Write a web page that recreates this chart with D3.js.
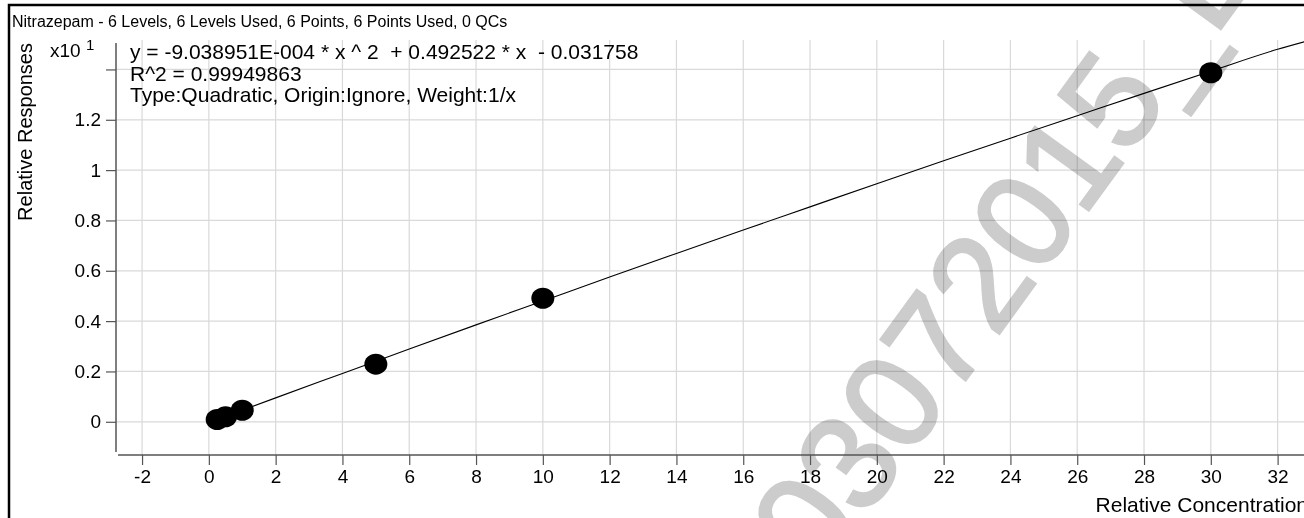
<!DOCTYPE html>
<html>
<head>
<meta charset="utf-8">
<script src="https://cdn.jsdelivr.net/npm/d3@7"></script>
<style>
  html, body { margin: 0; padding: 0; background: #fff; }
  svg { display: block; font-family: "Liberation Sans", Arial, sans-serif; }
</style>
</head>
<body>
<div id="chart"></div>
<script>
// calibration points (x in units, y in x10 units)
var levelX = [0.25, 0.5, 1, 5, 10, 30];
var levelY = [0.009, 0.020, 0.046, 0.229, 0.491, 1.387];

// fitted curve
var curveX = [0.25, 2, 4, 6, 8, 10, 12, 14, 16, 18, 20, 22, 24, 26, 28, 30, 32, 32.8];
var curveY = [0.009, 0.095, 0.192, 0.289, 0.385, 0.480, 0.575, 0.669, 0.762, 0.854, 0.946, 1.037, 1.127, 1.216, 1.305, 1.393, 1.480, 1.510];

var xTicks = [-2, 0, 2, 4, 6, 8, 10, 12, 14, 16, 18, 20, 22, 24, 26, 28, 30, 32];
var yTicks = [0, 0.2, 0.4, 0.6, 0.8, 1, 1.2, 1.4];
var yTickLabels = ["0", "0.2", "0.4", "0.6", "0.8", "1", "1.2", ""];

var titleText = "Nitrazepam - 6 Levels, 6 Levels Used, 6 Points, 6 Points Used, 0 QCs";
var infoLines = [
  "y = -9.038951E-004 * x ^ 2  + 0.492522 * x  - 0.031758",
  "R^2 = 0.99949863",
  "Type:Quadratic, Origin:Ignore, Weight:1/x"
];
var watermark = "03072015_L";

var W = 1304, H = 518;
// plot box (avoid the name "top", it is window.top)
var pLeft = 116, pTop = 40, pRight = 1304, pBottom = 455;

var svg = d3.select("#chart").append("svg")
    .attr("width", W)
    .attr("height", H);

var x = d3.scaleLinear().domain([-2.78, 32.79]).range([pLeft, pRight]);
var y = d3.scaleLinear().domain([-0.132, 1.517]).range([pBottom, pTop]);

// grid
svg.append("g").selectAll("line")
    .data(xTicks).enter().append("line")
    .attr("x1", function(d) { return x(d); })
    .attr("x2", function(d) { return x(d); })
    .attr("y1", pTop).attr("y2", pBottom)
    .style("stroke", "#d9d9d9").style("stroke-width", 1.2);
svg.append("g").selectAll("line")
    .data(yTicks).enter().append("line")
    .attr("x1", pLeft).attr("x2", pRight)
    .attr("y1", function(d) { return y(d); })
    .attr("y2", function(d) { return y(d); })
    .style("stroke", "#d9d9d9").style("stroke-width", 1.2);

// watermark, under the marks
svg.append("text")
    .attr("transform", "translate(820,580) rotate(-54)")
    .style("font-size", "134px")
    .style("fill", "#cccccc")
    .style("stroke", "#cccccc")
    .style("stroke-width", 3)
    .style("mix-blend-mode", "multiply")
    .text(watermark);

// axes
var xAxis = svg.append("g")
    .attr("transform", "translate(0," + pBottom + ")")
    .call(d3.axisBottom(x).tickValues(xTicks).tickSize(10).tickPadding(5).tickSizeOuter(0)
      .tickFormat(function(d) { return String(d); }));
xAxis.select(".domain").attr("d", "M" + (pLeft + 2) + ",0H" + pRight);

var yAxis = svg.append("g")
    .attr("transform", "translate(" + pLeft + ",0)")
    .call(d3.axisLeft(y).tickValues(yTicks).tickSize(10).tickPadding(5).tickSizeOuter(0)
      .tickFormat(function(d, i) { return yTickLabels[i]; }));
yAxis.select(".domain").attr("d", "M0," + (pTop + 3) + "V" + (pBottom - 3));

svg.selectAll(".domain").style("stroke", "#555").style("stroke-width", 1.5);
svg.selectAll(".tick line").style("stroke", "#555").style("stroke-width", 1.2);
svg.selectAll(".tick text")
    .style("font-family", "'Liberation Sans', Arial, sans-serif")
    .style("font-size", "19px")
    .style("fill", "#000");

// curve
var line = d3.line()
    .x(function(d) { return x(d[0]); })
    .y(function(d) { return y(d[1]); })
    .curve(d3.curveMonotoneX);
svg.append("path")
    .datum(d3.zip(curveX, curveY))
    .attr("d", line)
    .style("fill", "none")
    .style("stroke", "#000")
    .style("stroke-width", 1.1);

// points
svg.append("g").selectAll("ellipse")
    .data(d3.zip(levelX, levelY)).enter().append("ellipse")
    .attr("cx", function(d) { return x(d[0]); })
    .attr("cy", function(d) { return y(d[1]); })
    .attr("rx", 11.5).attr("ry", 10.5)
    .style("fill", "#000");

// texts
svg.append("text")
    .attr("x", 12).attr("y", 27)
    .style("font-size", "16px")
    .text(titleText);

svg.append("g").selectAll("text")
    .data(infoLines).enter().append("text")
    .attr("x", 130)
    .attr("y", function(d, i) { return 59 + i * 21.5; })
    .style("font-size", "21px")
    .style("white-space", "pre")
    .text(function(d) { return d; });

var mult = svg.append("text")
    .attr("x", 50).attr("y", 57)
    .style("font-size", "19px");
mult.append("tspan").text("x10 ");
mult.append("tspan").attr("dy", -7).style("font-size", "15px").text("1");

svg.append("text")
    .attr("transform", "translate(32,43) rotate(-90)")
    .attr("text-anchor", "end")
    .style("font-size", "20px")
    .text("Relative Responses");

svg.append("text")
    .attr("x", 1308).attr("y", 512)
    .attr("text-anchor", "end")
    .style("font-size", "21px")
    .text("Relative Concentration");

// frame
svg.append("path")
    .attr("d", "M9," + H + "V5H" + W)
    .style("fill", "none")
    .style("stroke", "#000")
    .style("stroke-width", 2.5);
</script>
</body>
</html>
